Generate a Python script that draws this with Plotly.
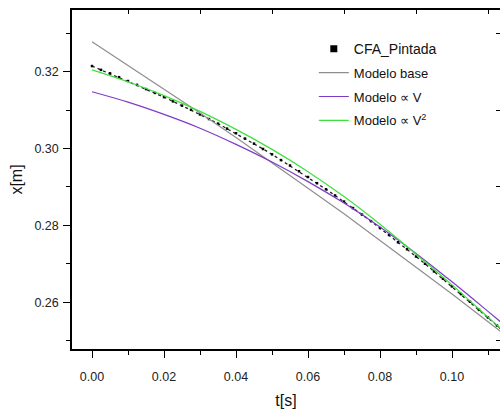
import plotly.graph_objects as go

# Measured positions (CFA_Pintada), t in seconds, x in metres
t_data = [0.0000, 0.0025, 0.0050, 0.0075, 0.0100, 0.0125, 0.0150, 0.0175,
          0.0200, 0.0225, 0.0250, 0.0275, 0.0300, 0.0325, 0.0350, 0.0375,
          0.0400, 0.0425, 0.0450, 0.0475, 0.0500, 0.0525, 0.0550, 0.0575,
          0.0600, 0.0625, 0.0650, 0.0675, 0.0700, 0.0725, 0.0750, 0.0775,
          0.0800, 0.0825, 0.0850, 0.0875, 0.0900, 0.0925, 0.0950, 0.0975,
          0.1000, 0.1025, 0.1050, 0.1075, 0.1100, 0.1125, 0.1150]
x_data = [0.3215, 0.3205, 0.3196, 0.3186, 0.3176, 0.3166, 0.3155, 0.3145,
          0.3134, 0.3123, 0.3112, 0.3101, 0.3089, 0.3077, 0.3065, 0.3052,
          0.3040, 0.3026, 0.3013, 0.2999, 0.2985, 0.2970, 0.2956, 0.2941,
          0.2926, 0.2910, 0.2894, 0.2878, 0.2862, 0.2845, 0.2828, 0.2811,
          0.2793, 0.2775, 0.2756, 0.2738, 0.2719, 0.2700, 0.2680, 0.2661,
          0.2641, 0.2621, 0.2601, 0.2580, 0.2560, 0.2539, 0.2517]

# Model curves sampled every 0.01 s
t_model = [0.00, 0.01, 0.02, 0.03, 0.04, 0.05, 0.06, 0.07, 0.08, 0.09, 0.10, 0.11, 0.115]
x_base = [0.3278, 0.3217, 0.3156, 0.3093, 0.3029, 0.2964, 0.2897, 0.2830, 0.2761,
          0.2692, 0.2621, 0.2549, 0.2513]
x_lin_v = [0.3148, 0.3121, 0.3089, 0.3053, 0.3011, 0.2965, 0.2914, 0.2858, 0.2796,
           0.2727, 0.2653, 0.2576, 0.2537]
x_quad_v = [0.3205, 0.3174, 0.3138, 0.3097, 0.3050, 0.2998, 0.2940, 0.2875, 0.2803,
            0.2725, 0.2645, 0.2561, 0.2519]

x_ticks = [0.00, 0.02, 0.04, 0.06, 0.08, 0.10]
x_tick_text = ["0.00", "0.02", "0.04", "0.06", "0.08", "0.10"]
y_ticks = [0.26, 0.28, 0.30, 0.32]
y_tick_text = ["0.26", "0.28", "0.30", "0.32"]
x_odd_ticks = [0.01, 0.03, 0.05, 0.07, 0.09, 0.11]
y_odd_ticks = [0.25, 0.27, 0.29, 0.31, 0.33]

X_RANGE = [-0.00556, 0.11333]
Y_RANGE = [0.2478, 0.3361]
FONT = "Liberation Sans, Arial, sans-serif"

fig = go.Figure()
# measured points: dotted trace through them plus small square markers
fig.add_trace(go.Scatter(
    x=t_data, y=x_data, mode="lines", showlegend=False, hoverinfo="skip",
    line=dict(color="#222222", width=1.3, dash="dot")))
fig.add_trace(go.Scatter(
    x=t_data, y=x_data, mode="markers", showlegend=False,
    marker=dict(symbol="square", size=2.5, color="black")))
# legend key for the measured series (larger square)
fig.add_trace(go.Scatter(
    x=[None], y=[None], mode="markers",
    name="<span style='font-size:14px'>CFA_Pintada</span>",
    marker=dict(symbol="square", size=7, color="black"),
    legendgroup="a"))
fig.add_trace(go.Scatter(
    x=t_model, y=x_base, mode="lines", name="Modelo base",
    line=dict(color="#8e8e8e", width=1.2), legendgroup="b"))
fig.add_trace(go.Scatter(
    x=t_model, y=x_lin_v, mode="lines", name="Modelo \u221d V",
    line=dict(color="#7d3cc8", width=1.2, shape="spline"), legendgroup="c"))
fig.add_trace(go.Scatter(
    x=t_model, y=x_quad_v, mode="lines", name="Modelo \u221d V<sup>2</sup>",
    line=dict(color="#3ee03e", width=1.2, shape="spline"), legendgroup="d"))

# Mirror axes: top and right frame with inward ticks
fig.add_trace(go.Scatter(x=[None], y=[None], xaxis="x2", yaxis="y2",
                         showlegend=False, hoverinfo="skip"))

fig.update_layout(
    width=500, height=415,
    margin=dict(l=72, r=0, t=10, b=66),
    paper_bgcolor="white", plot_bgcolor="white",
    font=dict(family=FONT, size=12, color="#222222"),
    showlegend=True,
    legend=dict(x=0.565, y=0.93, xanchor="left", yanchor="top",
                bgcolor="rgba(0,0,0,0)", font=dict(size=13, color="#111111"),
                traceorder="grouped", tracegroupgap=4, itemwidth=30),
    xaxis=dict(
        range=X_RANGE, showgrid=False, zeroline=False,
        showline=True, linecolor="black", linewidth=1.5,
        tickmode="array", tickvals=x_ticks, ticktext=x_tick_text,
        ticks="outside", ticklen=7, tickwidth=1.3, tickcolor="black",
        ticklabelstandoff=8,
        minor=dict(tickmode="array", tickvals=x_odd_ticks, ticks="outside",
                   ticklen=4, tickwidth=1, tickcolor="black"),
        tickfont=dict(size=12.5, color="#222222"),
        title=dict(text="t[s]", font=dict(size=16, color="#111111"), standoff=12),
    ),
    yaxis=dict(
        range=Y_RANGE, showgrid=False, zeroline=False,
        showline=True, linecolor="black", linewidth=1.5,
        tickmode="array", tickvals=y_ticks, ticktext=y_tick_text,
        ticks="outside", ticklen=7, tickwidth=1.3, tickcolor="black",
        ticklabelstandoff=2,
        minor=dict(tickmode="array", tickvals=y_odd_ticks, ticks="outside",
                   ticklen=4, tickwidth=1, tickcolor="black"),
        tickfont=dict(size=12.5, color="#222222"),
        title=dict(text="x[m]", font=dict(size=16, color="#111111"), standoff=8),
    ),
    xaxis2=dict(
        range=X_RANGE, overlaying="x", side="top", showgrid=False,
        zeroline=False, showline=True, linecolor="black", linewidth=1.5,
        tickmode="array", tickvals=x_odd_ticks, showticklabels=False,
        ticks="inside", ticklen=4, tickwidth=1, tickcolor="black",
    ),
    yaxis2=dict(
        range=Y_RANGE, overlaying="y", side="right", showgrid=False,
        zeroline=False, showline=False,
        tickmode="array", tickvals=y_odd_ticks, showticklabels=False,
        ticks="inside", ticklen=4, tickwidth=1, tickcolor="black",
    ),
)

fig.write_html("out.html")
